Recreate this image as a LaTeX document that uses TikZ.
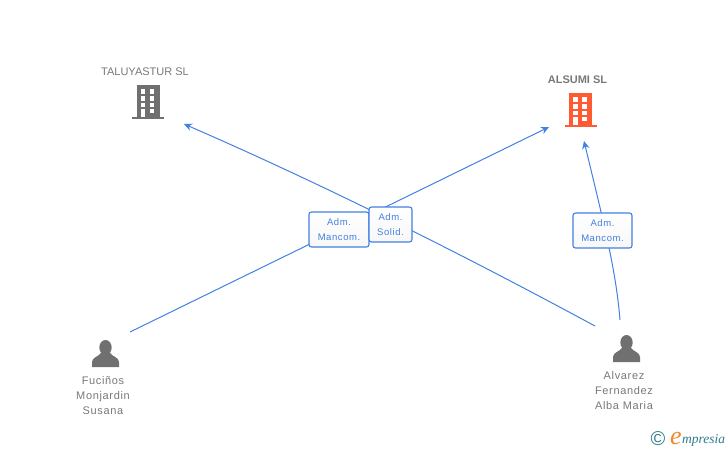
\documentclass[tikz,border=0pt]{standalone}
\usepackage{fontspec}
\setmainfont{Liberation Sans}
\newfontfamily\widefont[LetterSpace=6]{Liberation Sans}
\newfontfamily\logofont{Liberation Serif}
\usetikzlibrary{positioning,arrows.meta,shadings}
\definecolor{linkblue}{RGB}{66,128,226}
\definecolor{icongray}{RGB}{112,112,112}
\definecolor{textgray}{RGB}{120,120,120}
\definecolor{iconred}{RGB}{255,90,50}
\definecolor{logoteal}{RGB}{45,125,140}
\definecolor{logoorange}{RGB}{240,135,40}
\tikzset{
    link/.style={draw=linkblue, line width=1pt},
    linkarrow/.style={link, -{Stealth[length=8pt,width=7.5pt]}},
    rolebox/.style={draw=linkblue, line width=1.1pt, rounded corners=2.5pt, inner sep=0pt,
        top color=white, bottom color=black!3, text=linkblue, font=\widefont\fontsize{9.5}{15.5}\selectfont,
        align=center},
    company/.style={text=textgray, inner sep=0pt, anchor=base, font=\fontsize{11}{12}\selectfont},
    person/.style={text=textgray, inner sep=0pt, align=center, anchor=north, font=\widefont\fontsize{11}{15}\selectfont},
    pics/building/.style={code={
        % Body and base
        \fill[#1] (-11.5,-17) rectangle (11.5,15);
        \fill[#1] (-16,15) rectangle (16,17);
        % Windows
        \foreach \wy in {-13,-6,0.5} {
            \fill[white] (-7.5,\wy) rectangle (-3,\wy+4.5);
            \fill[white] (1.5,\wy) rectangle (6,\wy+4.5);
        }
        \fill[white] (1.5,7) rectangle (6,11);
        \fill[white] (-7.5,7) rectangle (-3,15);
    }},
    pics/silhouette/.style={code={
        % Head and shoulders
        \fill[icongray] (0,-9.5) ellipse (6.2 and 7.5);
        \fill[icongray] (-13.5,10) -- (-13.5,5) .. controls (-13.5,0.5) and (-7,-0.5) .. (-4.5,-4)
            -- (4.5,-4) .. controls (7,-0.5) and (13.5,0.5) .. (13.5,5) -- (13.5,10) -- cycle;
    }}
}
\begin{document}
\begin{tikzpicture}[x=1pt,y=-1pt]
    \useasboundingbox (0,0) rectangle (728,450);

    % Connector ends
    \coordinate (F1) at (130,332);
    \coordinate (A1) at (595,326);
    \coordinate (A2) at (620,320);
    \coordinate (T1) at (184,124);
    \coordinate (S1) at (549,127);
    \coordinate (S2) at (584,141);

    % Connectors
    \draw[linkarrow] (F1) -- (S1);
    \draw[linkarrow] (A1) .. controls (458,252) and (322,184) .. (T1);
    \draw[linkarrow] (A2) .. controls (616,272) and (606,232) .. (S2);

    % Role boxes
    \node[rolebox, minimum width=60pt, minimum height=35pt] (mancom1) at (339,229.5) {Adm.\\Mancom.};
    \node[rolebox, minimum width=43pt, minimum height=35pt] (solid) at (390.5,224.5) {Adm.\\Solid.};
    \node[rolebox, minimum width=59pt, minimum height=35pt] (mancom2) at (602.5,230.5) {Adm.\\Mancom.};

    % Companies
    \node[company] (taluyastur) at (145,75) {TALUYASTUR SL};
    \node[company, font=\bfseries\fontsize{11}{12}\selectfont] (alsumi) at (577.5,83) {ALSUMI SL};
    \pic at (148,102) {building=icongray};
    \pic at (580.5,110) {building=iconred};

    % People
    \pic at (105.5,357) {silhouette};
    \pic at (626.5,352) {silhouette};
    \node[person] (fucinos) at (103,376.5) {Fuciños\\Monjardin\\Susana};
    \node[person] (alvarez) at (624,371.5) {Alvarez\\Fernandez\\Alba Maria};

    % Logo
    \node[text=logoteal, inner sep=0pt, font=\fontsize{20}{20}\selectfont] (copyr) at (658,439) {©};
    \node[text=logoorange, inner sep=0pt, anchor=base west, font=\logofont\itshape\fontsize{26}{26}\selectfont] (logoe) at (670,444) {e};
    \node[text=logoteal, inner sep=0pt, anchor=base west, font=\logofont\itshape\fontsize{13.5}{14}\selectfont] (logotext) at (682,443) {mpresia};
\end{tikzpicture}
\end{document}
